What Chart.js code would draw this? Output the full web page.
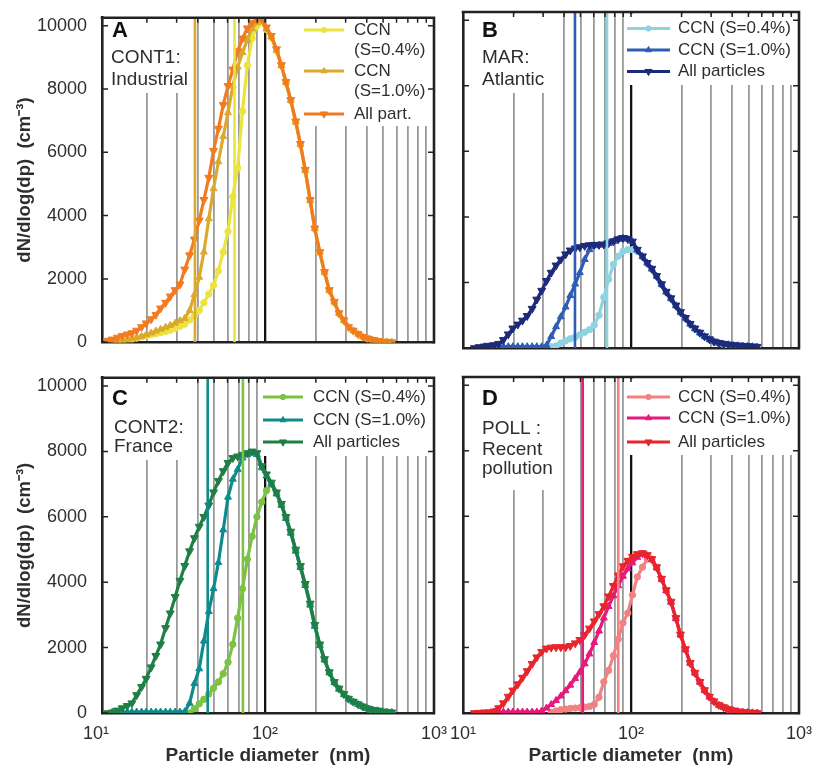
<!DOCTYPE html>
<html>
<head>
<meta charset="utf-8">
<script src="https://cdn.jsdelivr.net/npm/chart.js@4.4.0/dist/chart.umd.min.js"></script>
<style>
  body { margin: 0; background: #fff; }
  #wrap { position: relative; width: 814px; height: 768px; overflow: hidden; }
  canvas { position: absolute; }
</style>
</head>
<body>
<div id="wrap">
  <canvas id="panelA" width="450" height="360" style="left:0;top:0"></canvas>
  <canvas id="panelB" width="364" height="360" style="left:450px;top:0"></canvas>
  <canvas id="panelC" width="450" height="408" style="left:0;top:360px"></canvas>
  <canvas id="panelD" width="364" height="408" style="left:450px;top:360px"></canvas>
</div>
<script>
// particle diameter bins (nm), shared by all panels
const diameters = [
  11.7, 12.5, 13.4, 14.3, 15.3, 16.3, 17.4, 18.6, 19.8, 21.2,
  22.6, 24.1, 25.8, 27.5, 29.4, 31.4, 33.5, 35.8, 38.2, 40.8,
  43.5, 46.5, 49.6, 53.0, 56.6, 60.4, 64.5, 68.9, 73.6, 78.6,
  83.9, 89.6, 95.7, 102, 109, 117, 125, 133, 142, 152,
  162, 173, 185, 197, 211, 225, 240, 257, 274, 293,
  312, 333, 356, 380, 406, 433, 463, 494, 528, 563
];

// A: CONT1 Industrial
const aCcn04 = [
  null, null, 20, 40, 60, 90, 130, 170, 200, 240,
  270, 300, 340, 380, 440, 500, 570, 700, 830, 1000,
  1250, 1520, 1800, 2250, 2850, 3500, 4600, 5500, 7300, 8750,
  9600, 10000, 10100, 9880, 9620, 9200, 8720, 8190, 7620, 6940,
  6230, 5410, 4460, 3570, 2820, 2190, 1620, 1250, 900, 680,
  470, 360, 250, 160, 110, 65, 35, 20, 5, 0
];
const aCcn10 = [
  null, 10, 30, 50, 80, 110, 140, 180, 230, 290,
  350, 410, 470, 530, 600, 680, 750, 1000, 1500, 2050,
  2850, 3900, 4850, 5700, 6500, 7250, 8100, 8700, 9150, 9560,
  9900, 10100, 10150, 9900, 9650, 9230, 8740, 8210, 7640, 6960,
  6250, 5430, 4480, 3590, 2840, 2210, 1640, 1270, 910, 690,
  475, 365, 255, 165, 115, 70, 40, 20, 10, 0
];
const aAll = [
  50, 90, 150, 200, 250, 290, 370, 480, 600, 730,
  870, 1070, 1250, 1450, 1650, 1830, 2300, 2750, 3250, 3850,
  4500, 5200, 6050, 6750, 7500, 8100, 8620, 9200, 9600, 9920,
  10100, 10200, 10220, 9950, 9680, 9260, 8760, 8230, 7660, 6980,
  6270, 5450, 4500, 3600, 2850, 2220, 1650, 1280, 920, 695,
  480, 370, 260, 170, 120, 75, 45, 25, 10, 0
];

// B: MAR Atlantic
const bCcn04 = [
  null, null, null, null, null, null, null, null, null, null,
  null, null, null, null, null, 20, 40, 60, 150, 220,
  280, 330, 400, 480, 560, 700, 1000, 1550, 2100, 2550,
  2800, 2950, 3000, 3000, 2950, 2780, 2580, 2400, 2180, 1930,
  1700, 1500, 1280, 1080, 900, 720, 580, 450, 340, 250,
  180, 140, 110, 90, 70, 60, 50, 40, 30, 20
];
const bCcn10 = [
  null, null, 40, 40, 40, 40, 40, 40, 40, 40,
  40, 40, 40, 40, 40, 80, 350, 650, 950, 1250,
  1600, 1950, 2300, 2700, 3000, 3120, 3140, 3150, 3190, 3250,
  3310, 3350, 3320, 3240, 2990, 2790, 2590, 2410, 2190, 1940,
  1710, 1510, 1290, 1090, 910, 730, 590, 460, 350, 260,
  190, 150, 120, 100, 80, 70, 60, 50, 40, 30
];
const bAll = [
  0, 30, 50, 70, 90, 130, 250, 420, 600, 720,
  840, 980, 1200, 1480, 1750, 2050, 2300, 2520, 2700, 2860,
  2980, 3040, 3080, 3120, 3140, 3150, 3150, 3160, 3200, 3260,
  3320, 3360, 3330, 3250, 3000, 2800, 2600, 2420, 2200, 1950,
  1720, 1520, 1300, 1100, 920, 740, 600, 470, 360, 270,
  200, 160, 130, 110, 90, 80, 70, 60, 50, 40
];

// C: CONT2 France
const cCcn04 = [
  null, null, null, null, null, null, null, null, null, null,
  null, null, null, null, null, null, null, 0, 130, 280,
  420, 580, 760, 950, 1200, 1550, 2100, 2900, 3800, 4700,
  5400, 6000, 6450, 6800, 7000, 6720, 6370, 5970, 5520, 4970,
  4470, 3920, 3320, 2680, 2080, 1630, 1240, 940, 740, 570,
  430, 340, 260, 190, 130, 90, 70, 40, 20, 10
];
const cCcn10 = [
  null, 30, 30, 30, 30, 30, 30, 30, 30, 30,
  30, 30, 30, 30, 30, 30, 40, 300, 900, 1350,
  2200, 3100, 3800, 4600, 5600, 6600, 7150, 7450, 7800, 7900,
  7950, 7900, 7500, 7250, 7000, 6700, 6350, 5950, 5500, 4950,
  4450, 3900, 3300, 2650, 2060, 1620, 1230, 930, 730, 560,
  430, 340, 260, 190, 130, 90, 70, 40, 25, 15
];
const cAll = [
  0, 20, 80, 150, 220, 300, 550, 800, 1050, 1400,
  1750, 2100, 2600, 3050, 3550, 4050, 4500, 4950, 5350, 5700,
  6000, 6350, 6750, 7100, 7400, 7650, 7800, 7850, 7900, 7950,
  8000, 7950, 7550, 7300, 7050, 6750, 6400, 6000, 5550, 5000,
  4500, 3950, 3350, 2700, 2100, 1650, 1250, 950, 750, 580,
  440, 350, 270, 200, 140, 100, 80, 50, 30, 20
];

// D: POLL recent pollution
const dCcn04 = [
  null, null, null, null, null, null, null, null, null, null,
  null, null, null, null, null, null, 20, 60, 100, 120,
  140, 150, 160, 180, 200, 260, 480, 950, 1300, 1750,
  2250, 2750, 3050, 3600, 4150, 4450, 4700, 4680, 4430, 4080,
  3730, 3380, 2880, 2380, 1930, 1520, 1220, 940, 690, 490,
  350, 240, 170, 110, 70, 40, 25, 15, 5, 0
];
const dCcn10 = [
  null, null, null, null, 30, 30, 30, 30, 30, 30,
  30, 30, 30, 30, 60, 150, 260, 380, 520, 680,
  850, 1050, 1250, 1500, 1800, 2150, 2500, 2900, 3250, 3580,
  3880, 4170, 4400, 4580, 4750, 4850, 4800, 4680, 4430, 4080,
  3730, 3380, 2880, 2380, 1930, 1520, 1220, 940, 690, 490,
  350, 240, 170, 110, 70, 40, 25, 15, 5, 0
];
const dAll = [
  0, 10, 20, 25, 50, 150, 300, 500, 690, 880,
  1080, 1280, 1500, 1700, 1870, 1970, 2000, 2010, 2010, 2010,
  2050, 2130, 2230, 2380, 2580, 2800, 3020, 3260, 3560, 3880,
  4200, 4480, 4650, 4770, 4850, 4880, 4820, 4700, 4450, 4100,
  3750, 3400, 2900, 2400, 1950, 1530, 1230, 950, 700, 500,
  360, 250, 180, 120, 80, 50, 30, 20, 10, 0
];

// activation diameters (nm) for S=0.4% and S=1.0%
const cutA = [66, 38.5];
const cutB = [72, 46.4];
const cutC = [74, 45.8];
const cutD = [84, 51.6];

const xTickValues = [10, 20, 30, 40, 50, 60, 70, 80, 90, 100, 200, 300, 400, 500, 600, 700, 800, 900, 1000];
const yTickValues = [0, 2000, 4000, 6000, 8000, 10000];
const yMax = 10250;

const FONT = "'Liberation Sans', Arial, sans-serif";
const INK = '#2e2e2e';

function pts(values) {
  return values.map((v, i) => ({ x: diameters[i], y: v }));
}

const panelDecor = {
  id: 'panelDecor',
  beforeDatasetsDraw(chart, args, opts) {
    // white boxes behind the labels and legend hide the grid there (like matlab)
    const ctx = chart.ctx;
    ctx.save();
    ctx.fillStyle = '#fff';
    opts.boxes.forEach(b => ctx.fillRect(b[0], b[1], b[2] - b[0], b[3] - b[1]));
    ctx.restore();
  },
  afterDraw(chart, args, opts) {
    const ctx = chart.ctx;
    const a = chart.chartArea;
    const xs = chart.scales.x, ys = chart.scales.y;
    ctx.save();

    // inward ticks
    ctx.strokeStyle = '#222';
    ctx.lineWidth = 1.5;
    ctx.beginPath();
    yTickValues.forEach(v => {
      const py = ys.getPixelForValue(v);
      ctx.moveTo(a.left, py); ctx.lineTo(a.left + 6, py);
      ctx.moveTo(a.right - 6, py); ctx.lineTo(a.right, py);
    });
    xTickValues.filter(v => v > xs.min).forEach(v => {
      const px = xs.getPixelForValue(v);
      ctx.moveTo(px, a.top); ctx.lineTo(px, a.top + 5);
    });
    ctx.stroke();

    // top and right frame
    ctx.lineWidth = 2.6;
    ctx.beginPath();
    ctx.moveTo(a.left - 1.3, a.top);
    ctx.lineTo(a.right, a.top);
    ctx.lineTo(a.right, a.bottom + 1.3);
    ctx.stroke();

    // panel letter and site label
    ctx.textBaseline = 'middle';
    ctx.textAlign = 'left';
    ctx.fillStyle = '#111';
    ctx.font = 'bold 22px ' + FONT;
    ctx.fillText(opts.letter.text, opts.letter.x, opts.letter.y);
    ctx.fillStyle = INK;
    ctx.font = '19px ' + FONT;
    opts.lines.forEach(l => ctx.fillText(l.text, l.x, l.y));

    // legend
    const lg = opts.legend;
    ctx.font = '17px ' + FONT;
    chart.data.datasets.slice(0, 3).forEach((ds, i) => {
      const y = lg.rows[i];
      ctx.strokeStyle = ds.borderColor;
      ctx.fillStyle = ds.borderColor;
      ctx.lineWidth = 3;
      ctx.beginPath();
      ctx.moveTo(lg.x0, y); ctx.lineTo(lg.x1, y);
      ctx.stroke();
      ctx.lineWidth = 1;
      Chart.helpers.drawPoint(ctx, {
        pointStyle: ds.pointStyle, rotation: ds.pointRotation || 0,
        radius: ds.pointRadius - 0.5, borderWidth: 1
      }, (lg.x0 + lg.x1) / 2, y);
      ctx.fillStyle = INK;
      ds.label.split('\n').forEach((t, k) => ctx.fillText(t, lg.tx, y + k * lg.sub));
    });
    ctx.restore();
  }
};

function makePanel(id, p) {
  const series = [
    { label: p.labels[0], values: p.ccn04, color: p.colors[0], style: 'circle', r: 3.2, rot: 0, order: 3 },
    { label: p.labels[1], values: p.ccn10, color: p.colors[1], style: 'triangle', r: 4, rot: 0, order: 2 },
    { label: p.labels[2], values: p.all, color: p.colors[2], style: 'triangle', r: 4.6, rot: 180, order: 1 }
  ];
  const datasets = series.map(s => ({
    label: s.label,
    data: pts(s.values),
    borderColor: s.color,
    backgroundColor: s.color,
    borderWidth: 3.2,
    pointStyle: s.style,
    pointRadius: s.r,
    pointRotation: s.rot,
    pointBorderWidth: 1,
    tension: 0,
    spanGaps: false,
    order: s.order
  }));
  p.cuts.forEach((d, i) => {
    datasets.push({
      label: 'cut' + i,
      data: [{ x: d, y: 0 }, { x: d, y: yMax }],
      borderColor: p.colors[i],
      borderWidth: 2.6,
      pointRadius: 0,
      order: 0
    });
  });

  return new Chart(document.getElementById(id), {
    type: 'line',
    data: { datasets },
    options: {
      responsive: false,
      animation: false,
      layout: { padding: p.padding },
      plugins: {
        legend: { display: false },
        tooltip: { enabled: false },
        panelDecor: p.decor
      },
      scales: {
        x: {
          type: 'logarithmic',
          min: p.xMin,
          max: 1000,
          afterBuildTicks: s => { s.ticks = xTickValues.map(v => ({ value: v })); },
          afterFit: s => { s.height = p.xHeight; s.paddingLeft = 0; s.paddingRight = 0; },
          grid: {
            drawTicks: false,
            color: c => (c.tick && c.tick.value === 100) ? '#111' :
              (c.tick && (c.tick.value <= 10 || c.tick.value === 1000)) ? 'rgba(0,0,0,0)' : '#9a9a9a',
            lineWidth: c => (c.tick && c.tick.value === 100) ? 2.3 : 1.8
          },
          border: { color: '#222', width: 2.6 },
          ticks: {
            display: p.bottom,
            autoSkip: false,
            maxRotation: 0,
            padding: 10,
            color: INK,
            font: { family: FONT, size: 18 },
            callback: v => v === 10 ? '10¹' : v === 100 ? '10²' : v === 1000 ? '10³' : ''
          },
          title: {
            display: p.bottom,
            text: 'Particle diameter  (nm)',
            color: INK,
            font: { family: FONT, size: 19, weight: 'bold' },
            padding: { bottom: 1 }
          }
        },
        y: {
          min: 0,
          max: yMax,
          afterBuildTicks: s => { s.ticks = yTickValues.map(v => ({ value: v })); },
          afterFit: s => { s.width = p.yWidth; },
          grid: { display: false },
          border: { color: '#222', width: 2.6 },
          ticks: {
            display: p.left,
            padding: 7,
            color: INK,
            font: { family: FONT, size: 18 },
            callback: v => String(v)
          },
          title: {
            display: p.left,
            text: 'dN/dlog(dp)  (cm⁻³)',
            color: INK,
            font: { family: FONT, size: 18.5, weight: 'bold' },
            padding: { top: 14 }
          }
        }
      }
    },
    plugins: [panelDecor]
  });
}

// left column: frame starts a little right of 10 nm, as in the figure
makePanel('panelA', {
  left: true, bottom: false, yWidth: 102, xHeight: 12, xMin: 10.85,
  padding: { top: 12, right: 16 },
  ccn04: aCcn04, ccn10: aCcn10, all: aAll, cuts: cutA,
  colors: ['#ECE43E', '#DCA92C', '#F27B22'],
  labels: ['CCN\n(S=0.4%)', 'CCN\n(S=1.0%)', 'All part.'],
  decor: {
    letter: { text: 'A', x: 112, y: 31 },
    lines: [{ text: 'CONT1:', x: 111, y: 57.5 }, { text: 'Industrial', x: 111, y: 80 }],
    boxes: [[104, 14, 192, 93], [300, 14, 432, 126]],
    legend: { x0: 304, x1: 344, tx: 354, rows: [30, 71, 114], sub: 20.5 }
  }
});

makePanel('panelB', {
  left: false, bottom: false, yWidth: 13, xHeight: 12, xMin: 10,
  padding: { top: 12, right: 15 },
  ccn04: bCcn04, ccn10: bCcn10, all: bAll, cuts: cutB,
  colors: ['#8ED3E2', '#2F5DB6', '#1E2A7A'],
  labels: ['CCN (S=0.4%)', 'CCN (S=1.0%)', 'All particles'],
  decor: {
    letter: { text: 'B', x: 32, y: 30.5 },
    lines: [{ text: 'MAR:', x: 32, y: 57.5 }, { text: 'Atlantic', x: 32, y: 80 }],
    boxes: [[15, 14, 100, 93], [177, 14, 347, 85]],
    legend: { x0: 177, x1: 220, tx: 228, rows: [28.5, 50, 71.5], sub: 0 }
  }
});

makePanel('panelC', {
  left: true, bottom: true, yWidth: 102, xHeight: 55, xMin: 10.85,
  padding: { top: 17, right: 16 },
  ccn04: cCcn04, ccn10: cCcn10, all: cAll, cuts: cutC,
  colors: ['#7CC243', '#108B8C', '#1F7F46'],
  labels: ['CCN (S=0.4%)', 'CCN (S=1.0%)', 'All particles'],
  decor: {
    letter: { text: 'C', x: 112, y: 38.5 },
    lines: [{ text: 'CONT2:', x: 114, y: 67.5 }, { text: 'France', x: 114, y: 87 }],
    boxes: [[104, 19, 187, 100], [259, 19, 432, 96]],
    legend: { x0: 263, x1: 303, tx: 313, rows: [37, 60, 82], sub: 0 }
  }
});

makePanel('panelD', {
  left: false, bottom: true, yWidth: 13, xHeight: 55, xMin: 10,
  padding: { top: 17, right: 15 },
  ccn04: dCcn04, ccn10: dCcn10, all: dAll, cuts: cutD,
  colors: ['#F28282', '#E6197C', '#E8252B'],
  labels: ['CCN (S=0.4%)', 'CCN (S=1.0%)', 'All particles'],
  decor: {
    letter: { text: 'D', x: 32, y: 38.5 },
    lines: [{ text: 'POLL :', x: 32, y: 69 }, { text: 'Recent', x: 32, y: 89.5 }, { text: 'pollution', x: 32, y: 109 }],
    boxes: [[15, 19, 107, 130], [175, 19, 347, 95]],
    legend: { x0: 177, x1: 220, tx: 228, rows: [37, 58, 82], sub: 0 }
  }
});
</script>
</body>
</html>
